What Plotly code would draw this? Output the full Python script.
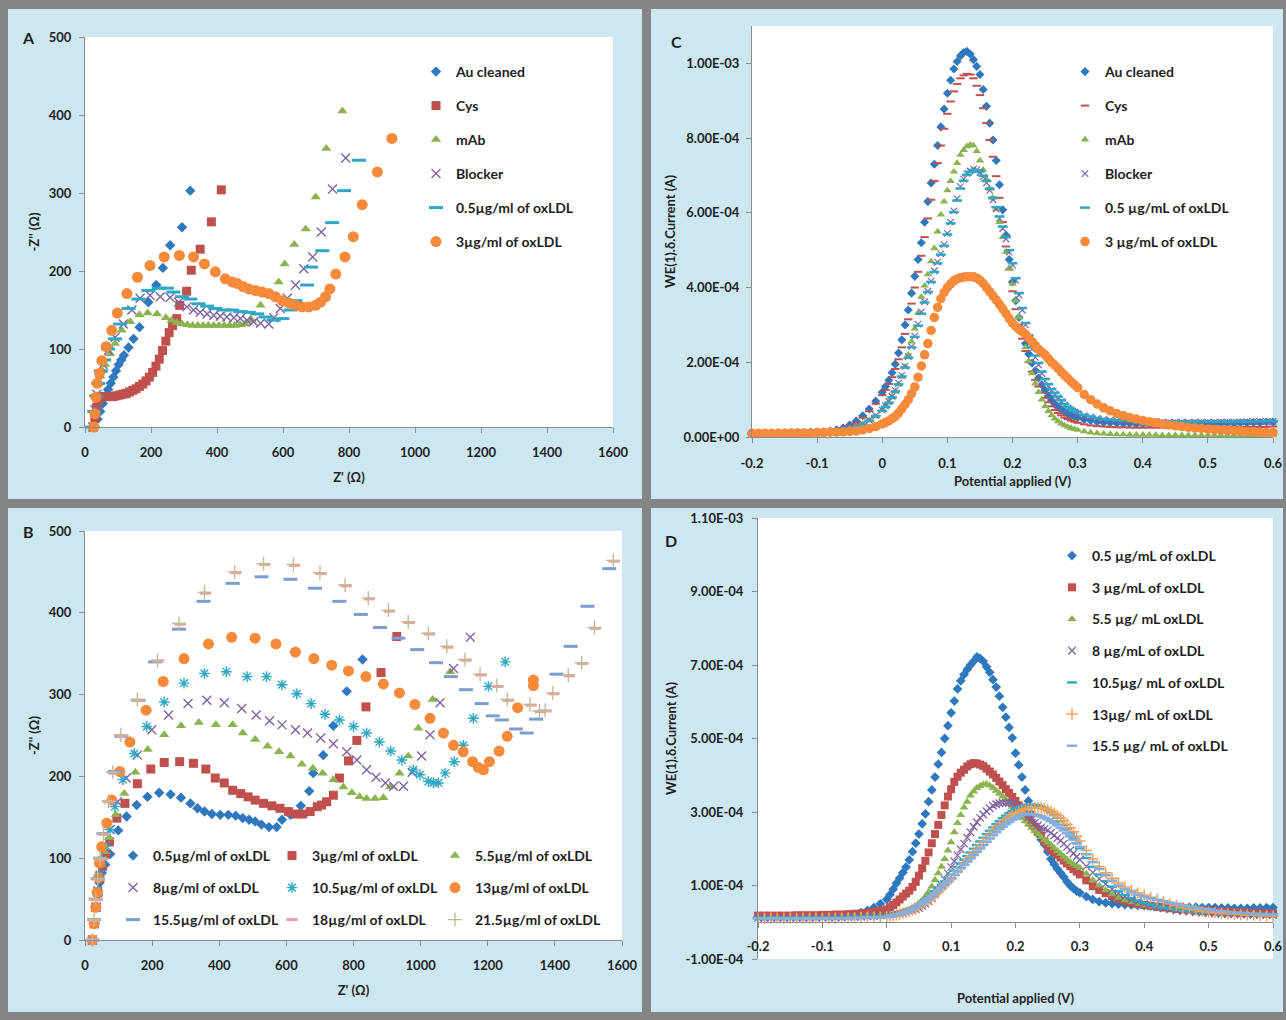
import plotly.graph_objects as go

W, H = 1286, 1020
FONT = "Lato, 'Open Sans', sans-serif"
TXT = "#1E1E1E"
AXC = "#8C8C8C"

# ------------------------------------------------------------------ DATA
# ---- Panel A : Nyquist plots (Z' / -Z'' in ohm)
a_au_x = [30, 38, 46, 54, 62, 70, 78, 86, 94, 102, 110, 118, 132, 147, 165, 192, 216, 236, 258, 294, 319]
a_au_y = [0, 10, 20, 30, 40, 48, 56, 64, 72, 80, 86, 92, 102, 113, 128, 160, 182, 204, 233, 256, 303]
a_cys_x = [25, 30, 35, 40, 46, 55, 65, 75, 85, 95, 105, 115, 125, 135, 145, 155, 165, 175, 185, 195,
           205, 215, 225, 235, 245, 255, 265, 278, 287, 308, 322, 349, 383, 413]
a_cys_y = [0, 12, 25, 35, 38, 39, 39, 39, 39, 40, 41, 42, 43, 45, 47, 49, 52, 55, 59, 64,
           70, 78, 87, 98, 110, 121, 130, 139, 156, 174, 201, 228, 263, 304]
a_mab_x = [22, 28, 34, 40, 46, 53, 61, 76, 91, 111, 137, 165, 190, 218, 245, 262, 278, 294, 310, 326,
           342, 358, 374, 390, 406, 422, 438, 454, 470, 486, 505, 532, 559, 587, 605, 634, 669, 699, 731, 780]
a_mab_y = [0, 20, 40, 55, 65, 72, 80, 94, 107, 124, 135, 144, 146, 145, 140, 137, 134, 132, 131, 130,
           130, 130, 130, 130, 130, 130, 130, 130, 131, 132, 137, 156, 171, 186, 209, 234, 254, 295, 357, 405]
a_blk_x = [24, 30, 36, 44, 55, 71, 91, 116, 142, 167, 197, 228, 258, 284, 309, 329, 349, 370, 390, 410,
           430, 451, 471, 491, 511, 532, 557, 572, 592, 613, 638, 663, 690, 716, 750, 790]
a_blk_y = [0, 22, 42, 60, 80, 98, 115, 132, 150, 165, 169, 167, 166, 160, 154, 150, 147, 145, 143, 142,
           141, 140, 139, 137, 135, 133, 132, 140, 152, 165, 182, 203, 218, 250, 305, 345]
a_ox05_x = [22, 28, 34, 40, 48, 58, 70, 91, 106, 132, 162, 192, 223, 248, 268, 294, 319, 344, 370, 395,
            420, 446, 471, 496, 522, 547, 572, 598, 623, 638, 673, 685, 719, 749, 785, 830]
a_ox05_y = [0, 20, 40, 56, 72, 86, 100, 113, 132, 152, 164, 175, 178, 178, 173, 167, 164, 158, 155, 152,
            150, 150, 148, 147, 145, 141, 137, 139, 150, 162, 182, 205, 226, 262, 303, 342]
a_ox3_x = [27, 30, 33, 37, 44, 51, 64, 81, 98, 127, 159, 197, 240, 286, 329, 362, 395, 425, 446, 461,
           479, 496, 517, 537, 557, 577, 598, 618, 638, 658, 678, 699, 714, 729, 742, 760, 788, 813, 840, 886, 930]
a_ox3_y = [0, 17, 38, 56, 69, 85, 103, 124, 146, 171, 192, 207, 218, 220, 218, 209, 199, 190, 186, 184,
           180, 177, 175, 173, 171, 167, 162, 159, 156, 154, 154, 156, 160, 167, 177, 196, 218, 244, 285, 327, 370]

# ---- Panel B : Nyquist plots for oxLDL concentrations
b05_x = [22, 28, 33, 38, 43, 50, 60, 75, 99, 124, 154, 186, 221, 255, 286, 314, 335, 356, 378, 403,
         427, 449, 470, 489, 507, 526, 548, 571, 587, 612, 643, 668, 680, 710, 740, 780, 827]
b05_y = [0, 20, 40, 55, 70, 82, 92, 105, 134, 151, 165, 175, 180, 178, 174, 167, 161, 157, 154, 153,
         153, 152, 149, 147, 145, 141, 138, 138, 147, 153, 164, 182, 204, 226, 262, 304, 343]
b3_x = [22, 28, 33, 38, 44, 52, 62, 73, 95, 119, 156, 196, 236, 282, 323, 360, 388, 415, 440, 464,
        486, 507, 532, 557, 581, 606, 627, 649, 671, 692, 705, 720, 740, 758, 785, 810, 837, 882, 929]
b3_y = [0, 20, 40, 58, 75, 90, 105, 120, 149, 167, 191, 209, 217, 218, 216, 209, 198, 192, 183, 179,
        175, 171, 167, 164, 161, 157, 154, 154, 157, 163, 165, 169, 177, 198, 219, 244, 285, 327, 371]
b55_x = [22, 28, 33, 38, 44, 52, 62, 72, 92, 117, 150, 187, 236, 286, 339, 390, 440, 470, 507, 544,
         578, 612, 646, 679, 708, 740, 770, 795, 818, 839, 864, 889, 909, 937, 963, 993, 1036, 1088]
b55_y = [0, 20, 40, 58, 76, 92, 108, 125, 153, 179, 205, 233, 251, 262, 266, 263, 263, 253, 245, 237,
         230, 225, 215, 210, 204, 196, 187, 180, 175, 173, 173, 174, 187, 204, 225, 259, 294, 328]
b8_x = [22, 28, 33, 38, 44, 52, 62, 75, 97, 123, 156, 199, 249, 307, 363, 415, 467, 510, 550, 587,
        627, 663, 702, 740, 780, 810, 839, 867, 895, 920, 949, 975, 1003, 1028, 1058, 1098, 1148]
b8_y = [0, 20, 40, 60, 78, 95, 112, 135, 169, 198, 226, 257, 275, 289, 293, 290, 283, 275, 268, 263,
        257, 253, 247, 240, 230, 220, 208, 199, 192, 188, 188, 205, 225, 251, 290, 332, 370]
b105_x = [22, 28, 33, 38, 44, 52, 62, 74, 89, 113, 147, 184, 236, 295, 356, 421, 483, 541, 587, 631,
          674, 715, 758, 800, 839, 877, 911, 944, 978, 998, 1023, 1038, 1053, 1073, 1100, 1127, 1157, 1202, 1252]
b105_y = [0, 20, 40, 60, 80, 98, 115, 135, 163, 196, 228, 261, 291, 314, 326, 328, 322, 322, 312, 301,
          289, 276, 269, 261, 253, 242, 231, 220, 208, 202, 194, 192, 192, 204, 218, 238, 271, 310, 340]
b13_x = [22, 27, 32, 36, 40, 43, 50, 65, 80, 104, 134, 182, 233, 295, 368, 437, 507, 569, 627, 682,
         735, 785, 837, 889, 937, 983, 1028, 1068, 1098, 1127, 1155, 1172, 1187, 1205, 1234, 1258, 1289, 1336, 1336]
b13_y = [0, 20, 40, 58, 76, 94, 114, 143, 171, 206, 242, 281, 316, 344, 362, 370, 369, 362, 352, 344,
         336, 329, 322, 313, 302, 288, 271, 253, 238, 230, 218, 211, 208, 218, 231, 249, 284, 311, 318]
b155_x = [22, 27, 32, 38, 45, 55, 74, 89, 109, 159, 209, 280, 353, 440, 526, 612, 685, 758, 822, 879,
          934, 990, 1046, 1090, 1135, 1182, 1215, 1242, 1284, 1316, 1344, 1405, 1447, 1497, 1562]
b155_y = [0, 25, 50, 75, 100, 130, 169, 206, 249, 293, 340, 380, 414, 436, 444, 441, 430, 414, 398, 382,
          369, 355, 339, 322, 306, 289, 274, 269, 258, 253, 270, 325, 359, 408, 454]
b18_x = [23, 28, 33, 39, 46, 56, 71, 85, 109, 158, 218, 283, 359, 449, 535, 624, 703, 778, 847, 907,
         966, 1026, 1081, 1135, 1180, 1230, 1261, 1329, 1357, 1374, 1397, 1443, 1483, 1521, 1577]
b18_y = [0, 24, 49, 74, 99, 129, 169, 204, 250, 293, 341, 386, 424, 449, 459, 458, 448, 433, 417, 402,
         388, 374, 358, 342, 324, 310, 293, 287, 279, 280, 301, 323, 338, 381, 463]
b215_x = [22, 27, 32, 38, 45, 55, 70, 83, 107, 156, 216, 280, 356, 446, 532, 621, 700, 775, 844, 904,
          963, 1023, 1078, 1132, 1177, 1227, 1258, 1326, 1354, 1371, 1394, 1440, 1480, 1518, 1574]
b215_y = [0, 25, 50, 75, 100, 130, 170, 205, 251, 294, 342, 387, 425, 450, 460, 459, 449, 434, 418, 403,
          389, 375, 359, 343, 325, 311, 294, 288, 280, 281, 302, 324, 339, 382, 464]

# ---- Panels C and D : DPV, potential (V) and current (units of 1e-4 A)
potential = [
    -0.20, -0.19, -0.18, -0.17, -0.16, -0.15, -0.14, -0.13, -0.12, -0.11,
    -0.10, -0.09, -0.08, -0.07, -0.06, -0.05, -0.04, -0.03, -0.02, -0.01,
    0.000, 0.005, 0.010, 0.015, 0.020, 0.025, 0.030, 0.035, 0.040, 0.045,
    0.050, 0.055, 0.060, 0.065, 0.070, 0.075, 0.080, 0.085, 0.090, 0.095,
    0.100, 0.105, 0.110, 0.115, 0.120, 0.125, 0.130, 0.135, 0.140, 0.145,
    0.150, 0.155, 0.160, 0.165, 0.170, 0.175, 0.180, 0.185, 0.190, 0.195,
    0.200, 0.205, 0.210, 0.215, 0.220, 0.225, 0.230, 0.235, 0.240, 0.245,
    0.250, 0.255, 0.260, 0.265, 0.270, 0.275, 0.280, 0.285, 0.290, 0.295,
    0.300,
    0.31, 0.32, 0.33, 0.34, 0.35, 0.36, 0.37, 0.38, 0.39, 0.40,
    0.41, 0.42, 0.43, 0.44, 0.45, 0.46, 0.47, 0.48, 0.49, 0.50,
    0.51, 0.52, 0.53, 0.54, 0.55, 0.56, 0.57, 0.58, 0.59, 0.60,
]

c_au = [
    0.10, 0.10, 0.10, 0.10, 0.11, 0.11, 0.11, 0.12, 0.12, 0.13,
    0.13, 0.14, 0.16, 0.19, 0.24, 0.32, 0.43, 0.57, 0.75, 0.96,
    1.20, 1.35, 1.52, 1.72, 1.95, 2.25, 2.60, 3.00, 3.40, 3.85,
    4.30, 4.75, 5.20, 5.75, 6.30, 6.80, 7.30, 7.80, 8.30, 8.78,
    9.20, 9.55, 9.85, 10.05, 10.20, 10.29, 10.32, 10.25, 10.10, 9.92,
    9.70, 9.30, 8.85, 8.40, 7.95, 7.40, 6.75, 6.08, 5.40, 4.75,
    4.15, 3.65, 3.20, 2.83, 2.50, 2.22, 1.98, 1.77, 1.58, 1.40,
    1.25, 1.10, 0.98, 0.88, 0.80, 0.73, 0.67, 0.62, 0.58, 0.55,
    0.52,
    0.47, 0.44, 0.41, 0.39, 0.38, 0.37, 0.36, 0.36, 0.35, 0.35,
    0.35, 0.35, 0.35, 0.35, 0.35, 0.35, 0.35, 0.36, 0.36, 0.36,
    0.36, 0.37, 0.37, 0.37, 0.38, 0.38, 0.39, 0.39, 0.40, 0.40,
]
c_cys = [
    0.10, 0.10, 0.10, 0.10, 0.10, 0.11, 0.11, 0.11, 0.12, 0.12,
    0.13, 0.14, 0.15, 0.18, 0.22, 0.29, 0.39, 0.52, 0.69, 0.89,
    1.12, 1.26, 1.42, 1.60, 1.82, 2.08, 2.40, 2.76, 3.15, 3.57,
    4.00, 4.42, 4.85, 5.35, 5.85, 6.35, 6.85, 7.33, 7.80, 8.25,
    8.65, 8.98, 9.25, 9.45, 9.60, 9.68, 9.72, 9.70, 9.60, 9.40,
    9.15, 8.80, 8.40, 7.95, 7.50, 6.98, 6.40, 5.75, 5.10, 4.48,
    3.90, 3.42, 3.00, 2.63, 2.30, 2.00, 1.75, 1.53, 1.35, 1.19,
    1.05, 0.93, 0.82, 0.72, 0.64, 0.58, 0.52, 0.48, 0.44, 0.41,
    0.38,
    0.34, 0.31, 0.29, 0.28, 0.27, 0.26, 0.26, 0.25, 0.25, 0.25,
    0.25, 0.25, 0.25, 0.25, 0.25, 0.25, 0.25, 0.25, 0.25, 0.25,
    0.25, 0.26, 0.26, 0.26, 0.26, 0.27, 0.27, 0.27, 0.27, 0.28,
]
c_mab = [
    0.08, 0.08, 0.08, 0.08, 0.09, 0.09, 0.09, 0.10, 0.10, 0.10,
    0.11, 0.12, 0.13, 0.15, 0.18, 0.22, 0.28, 0.35, 0.44, 0.55,
    0.72, 0.82, 0.92, 1.06, 1.22, 1.40, 1.61, 1.88, 2.20, 2.55,
    2.90, 3.32, 3.75, 4.05, 4.35, 4.70, 5.05, 5.50, 5.95, 6.30,
    6.60, 6.85, 7.10, 7.33, 7.55, 7.68, 7.78, 7.82, 7.80, 7.65,
    7.40, 7.15, 6.90, 6.65, 6.40, 6.10, 5.75, 5.35, 4.95, 4.52,
    4.10, 3.65, 3.20, 2.80, 2.40, 2.03, 1.70, 1.43, 1.20, 1.00,
    0.82, 0.69, 0.58, 0.49, 0.42, 0.36, 0.31, 0.27, 0.24, 0.21,
    0.19,
    0.15, 0.12, 0.10, 0.09, 0.08, 0.07, 0.07, 0.06, 0.06, 0.06,
    0.06, 0.06, 0.05, 0.05, 0.05, 0.05, 0.05, 0.05, 0.05, 0.05,
    0.05, 0.05, 0.05, 0.05, 0.05, 0.05, 0.05, 0.05, 0.05, 0.05,
]
c_blk = [
    0.09, 0.09, 0.09, 0.09, 0.09, 0.10, 0.10, 0.10, 0.10, 0.11,
    0.11, 0.12, 0.13, 0.15, 0.18, 0.22, 0.28, 0.35, 0.45, 0.57,
    0.72, 0.83, 0.95, 1.09, 1.25, 1.44, 1.65, 1.89, 2.15, 2.42,
    2.70, 3.02, 3.35, 3.62, 3.90, 4.17, 4.45, 4.68, 4.90, 5.15,
    5.45, 5.75, 6.05, 6.38, 6.70, 6.90, 7.05, 7.12, 7.17, 7.15,
    7.08, 6.96, 6.80, 6.60, 6.35, 6.10, 5.85, 5.58, 5.30, 4.95,
    4.60, 4.20, 3.80, 3.40, 3.00, 2.66, 2.35, 2.13, 1.93, 1.70,
    1.50, 1.37, 1.25, 1.15, 1.05, 0.95, 0.85, 0.78, 0.72, 0.67,
    0.63,
    0.57, 0.53, 0.50, 0.47, 0.45, 0.44, 0.43, 0.42, 0.42, 0.41,
    0.41, 0.41, 0.40, 0.40, 0.40, 0.40, 0.40, 0.40, 0.40, 0.40,
    0.40, 0.40, 0.40, 0.40, 0.40, 0.41, 0.41, 0.41, 0.41, 0.42,
]
c_ox05 = [
    0.09, 0.09, 0.09, 0.09, 0.10, 0.10, 0.10, 0.10, 0.11, 0.11,
    0.12, 0.12, 0.13, 0.15, 0.18, 0.22, 0.27, 0.34, 0.44, 0.56,
    0.70, 0.81, 0.92, 1.06, 1.22, 1.41, 1.62, 1.86, 2.12, 2.40,
    2.68, 2.98, 3.30, 3.60, 3.88, 4.15, 4.42, 4.65, 4.88, 5.12,
    5.42, 5.72, 6.02, 6.33, 6.65, 6.86, 7.02, 7.10, 7.15, 7.14,
    7.10, 6.99, 6.85, 6.64, 6.40, 6.15, 5.90, 5.63, 5.35, 5.00,
    4.65, 4.25, 3.85, 3.45, 3.05, 2.72, 2.40, 2.18, 1.98, 1.75,
    1.55, 1.41, 1.28, 1.18, 1.08, 0.98, 0.88, 0.81, 0.75, 0.70,
    0.66,
    0.59, 0.55, 0.51, 0.48, 0.46, 0.45, 0.44, 0.43, 0.43, 0.42,
    0.42, 0.41, 0.41, 0.41, 0.41, 0.41, 0.41, 0.41, 0.41, 0.41,
    0.41, 0.41, 0.41, 0.42, 0.42, 0.42, 0.42, 0.42, 0.43, 0.43,
]
c_ox3 = [
    0.10, 0.10, 0.10, 0.10, 0.10, 0.10, 0.11, 0.11, 0.11, 0.11,
    0.12, 0.12, 0.13, 0.13, 0.14, 0.15, 0.16, 0.19, 0.23, 0.28,
    0.35, 0.39, 0.43, 0.49, 0.55, 0.64, 0.75, 0.87, 1.00, 1.16,
    1.34, 1.60, 1.90, 2.20, 2.50, 2.85, 3.20, 3.47, 3.70, 3.87,
    4.00, 4.10, 4.18, 4.23, 4.26, 4.28, 4.29, 4.29, 4.29, 4.25,
    4.20, 4.11, 4.00, 3.89, 3.78, 3.67, 3.55, 3.43, 3.30, 3.17,
    3.05, 2.96, 2.88, 2.82, 2.75, 2.65, 2.55, 2.45, 2.35, 2.27,
    2.20, 2.10, 2.00, 1.92, 1.83, 1.74, 1.65, 1.57, 1.48, 1.40,
    1.32,
    1.14, 1.00, 0.88, 0.78, 0.70, 0.63, 0.57, 0.52, 0.48, 0.44,
    0.41, 0.38, 0.35, 0.32, 0.30, 0.28, 0.26, 0.24, 0.23, 0.21,
    0.20, 0.19, 0.18, 0.17, 0.16, 0.15, 0.14, 0.13, 0.12, 0.12,
]

d_ox05 = [
    0.15, 0.15, 0.15, 0.15, 0.15, 0.15, 0.15, 0.15, 0.16, 0.16,
    0.16, 0.17, 0.17, 0.18, 0.20, 0.22, 0.26, 0.32, 0.40, 0.50,
    0.62, 0.75, 0.90, 1.06, 1.20, 1.35, 1.50, 1.70, 1.92, 2.15,
    2.40, 2.68, 2.95, 3.28, 3.60, 3.95, 4.30, 4.62, 5.00, 5.35,
    5.70, 6.02, 6.35, 6.57, 6.74, 6.88, 7.00, 7.10, 7.22, 7.18,
    7.10, 6.95, 6.80, 6.60, 6.40, 6.15, 5.85, 5.58, 5.30, 5.02,
    4.60, 4.28, 3.95, 3.60, 3.30, 2.95, 2.62, 2.40, 2.25, 2.12,
    1.92, 1.72, 1.58, 1.45, 1.34, 1.23, 1.10, 1.00, 0.92, 0.85,
    0.80,
    0.70, 0.62, 0.56, 0.53, 0.51, 0.49, 0.48, 0.47, 0.46, 0.45,
    0.44, 0.43, 0.42, 0.42, 0.41, 0.41, 0.41, 0.41, 0.40, 0.40,
    0.40, 0.39, 0.39, 0.38, 0.38, 0.38, 0.39, 0.39, 0.40, 0.40,
]
d_ox3 = [
    0.18, 0.18, 0.18, 0.18, 0.18, 0.18, 0.19, 0.19, 0.19, 0.19,
    0.20, 0.20, 0.21, 0.21, 0.22, 0.23, 0.24, 0.26, 0.28, 0.31,
    0.35, 0.41, 0.47, 0.54, 0.62, 0.70, 0.78, 0.86, 0.96, 1.10,
    1.27, 1.47, 1.67, 1.90, 2.15, 2.40, 2.65, 2.92, 3.18, 3.42,
    3.62, 3.82, 3.96, 4.07, 4.15, 4.24, 4.30, 4.33, 4.32, 4.29,
    4.25, 4.18, 4.10, 4.02, 3.93, 3.83, 3.73, 3.62, 3.52, 3.41,
    3.30, 3.18, 3.07, 2.93, 2.80, 2.70, 2.60, 2.48, 2.36, 2.20,
    2.08, 1.98, 1.91, 1.84, 1.76, 1.68, 1.60, 1.53, 1.45, 1.38,
    1.30,
    1.14, 0.98, 0.88, 0.79, 0.71, 0.64, 0.58, 0.54, 0.50, 0.47,
    0.45, 0.42, 0.40, 0.38, 0.36, 0.35, 0.34, 0.33, 0.32, 0.31,
    0.30, 0.29, 0.28, 0.27, 0.26, 0.26, 0.25, 0.25, 0.24, 0.24,
]
d_ox55 = [
    0.13, 0.13, 0.13, 0.13, 0.13, 0.13, 0.13, 0.13, 0.14, 0.14,
    0.14, 0.14, 0.15, 0.15, 0.16, 0.17, 0.18, 0.19, 0.19, 0.19,
    0.20, 0.21, 0.22, 0.24, 0.26, 0.28, 0.31, 0.34, 0.38, 0.44,
    0.51, 0.60, 0.70, 0.82, 0.97, 1.15, 1.33, 1.51, 1.72, 1.95,
    2.18, 2.45, 2.70, 2.92, 3.12, 3.28, 3.45, 3.56, 3.65, 3.71,
    3.75, 3.76, 3.72, 3.66, 3.58, 3.50, 3.42, 3.34, 3.24, 3.14,
    3.04, 2.93, 2.84, 2.75, 2.66, 2.57, 2.48, 2.40, 2.32, 2.24,
    2.17, 2.10, 2.02, 1.94, 1.86, 1.78, 1.71, 1.64, 1.58, 1.53,
    1.48,
    1.32, 1.15, 1.00, 0.87, 0.76, 0.67, 0.60, 0.55, 0.50, 0.46,
    0.43, 0.41, 0.39, 0.37, 0.35, 0.33, 0.31, 0.30, 0.29, 0.28,
    0.27, 0.26, 0.25, 0.24, 0.24, 0.23, 0.23, 0.22, 0.22, 0.22,
]
d_ox8 = [
    0.12, 0.12, 0.12, 0.12, 0.12, 0.12, 0.12, 0.12, 0.12, 0.12,
    0.13, 0.13, 0.13, 0.13, 0.14, 0.14, 0.15, 0.16, 0.17, 0.19,
    0.20, 0.21, 0.22, 0.23, 0.24, 0.26, 0.28, 0.30, 0.32, 0.35,
    0.39, 0.44, 0.50, 0.57, 0.65, 0.77, 0.88, 1.01, 1.17, 1.33,
    1.50, 1.66, 1.82, 1.98, 2.14, 2.30, 2.45, 2.60, 2.72, 2.84,
    2.93, 3.02, 3.10, 3.17, 3.21, 3.24, 3.25, 3.25, 3.25, 3.24,
    3.20, 3.14, 3.05, 2.96, 2.87, 2.78, 2.70, 2.64, 2.58, 2.54,
    2.50, 2.43, 2.36, 2.29, 2.22, 2.14, 2.05, 1.96, 1.87, 1.78,
    1.70,
    1.52, 1.35, 1.18, 1.04, 0.90, 0.79, 0.70, 0.62, 0.56, 0.50,
    0.45, 0.41, 0.38, 0.35, 0.32, 0.30, 0.29, 0.27, 0.26, 0.25,
    0.24, 0.23, 0.22, 0.22, 0.21, 0.21, 0.20, 0.20, 0.20, 0.20,
]
d_ox105 = [
    0.13, 0.13, 0.13, 0.13, 0.13, 0.13, 0.13, 0.13, 0.13, 0.13,
    0.13, 0.13, 0.14, 0.14, 0.14, 0.15, 0.15, 0.16, 0.16, 0.17,
    0.18, 0.19, 0.21, 0.23, 0.25, 0.28, 0.31, 0.35, 0.39, 0.44,
    0.49, 0.55, 0.61, 0.68, 0.76, 0.84, 0.93, 1.02, 1.11, 1.20,
    1.30, 1.40, 1.50, 1.60, 1.70, 1.80, 1.90, 2.00, 2.10, 2.20,
    2.30, 2.40, 2.49, 2.58, 2.67, 2.75, 2.83, 2.90, 2.97, 3.03,
    3.08, 3.12, 3.16, 3.18, 3.20, 3.20, 3.19, 3.17, 3.14, 3.10,
    3.05, 2.99, 2.92, 2.84, 2.75, 2.65, 2.54, 2.42, 2.29, 2.15,
    2.01,
    1.75, 1.51, 1.30, 1.12, 0.97, 0.84, 0.74, 0.66, 0.59, 0.53,
    0.48, 0.44, 0.40, 0.37, 0.35, 0.33, 0.31, 0.29, 0.28, 0.27,
    0.26, 0.25, 0.25, 0.24, 0.24, 0.23, 0.23, 0.23, 0.22, 0.22,
]
d_ox13 = [
    0.11, 0.11, 0.11, 0.11, 0.11, 0.11, 0.11, 0.11, 0.11, 0.11,
    0.11, 0.11, 0.11, 0.12, 0.12, 0.12, 0.13, 0.13, 0.14, 0.14,
    0.15, 0.16, 0.17, 0.19, 0.21, 0.24, 0.27, 0.30, 0.34, 0.38,
    0.43, 0.48, 0.54, 0.60, 0.67, 0.75, 0.83, 0.91, 1.00, 1.09,
    1.18, 1.28, 1.38, 1.48, 1.58, 1.68, 1.78, 1.88, 1.98, 2.08,
    2.18, 2.28, 2.37, 2.46, 2.55, 2.63, 2.71, 2.78, 2.85, 2.91,
    2.96, 3.01, 3.05, 3.08, 3.10, 3.11, 3.12, 3.12, 3.11, 3.09,
    3.06, 3.02, 2.97, 2.91, 2.84, 2.76, 2.67, 2.57, 2.46, 2.34,
    2.21,
    1.95, 1.72, 1.52, 1.35, 1.20, 1.07, 0.96, 0.87, 0.80, 0.74,
    0.68, 0.62, 0.56, 0.50, 0.45, 0.40, 0.36, 0.33, 0.30, 0.28,
    0.26, 0.24, 0.23, 0.22, 0.21, 0.20, 0.19, 0.18, 0.17, 0.17,
]
d_ox155 = [
    0.10, 0.10, 0.10, 0.10, 0.10, 0.10, 0.10, 0.10, 0.10, 0.10,
    0.10, 0.10, 0.10, 0.11, 0.11, 0.11, 0.12, 0.12, 0.13, 0.13,
    0.14, 0.15, 0.17, 0.19, 0.21, 0.24, 0.27, 0.31, 0.35, 0.40,
    0.45, 0.51, 0.57, 0.64, 0.71, 0.79, 0.87, 0.95, 1.03, 1.11,
    1.20, 1.29, 1.38, 1.47, 1.56, 1.65, 1.74, 1.83, 1.92, 2.01,
    2.10, 2.19, 2.28, 2.37, 2.45, 2.53, 2.60, 2.67, 2.73, 2.79,
    2.84, 2.88, 2.92, 2.94, 2.95, 2.94, 2.93, 2.91, 2.88, 2.84,
    2.80, 2.75, 2.70, 2.64, 2.57, 2.50, 2.42, 2.34, 2.25, 2.15,
    2.05,
    1.85, 1.64, 1.45, 1.28, 1.13, 1.00, 0.90, 0.82, 0.75, 0.70,
    0.65, 0.61, 0.57, 0.53, 0.50, 0.46, 0.43, 0.40, 0.37, 0.35,
    0.32, 0.30, 0.28, 0.26, 0.25, 0.24, 0.23, 0.22, 0.21, 0.21,
]
CURRENT_UNIT = 1e-4

# ---- axis ticks / labels
ab_xticks = [0, 200, 400, 600, 800, 1000, 1200, 1400, 1600]
ab_yticks = [0, 100, 200, 300, 400, 500]
cd_xticks = [-0.2, -0.1, 0, 0.1, 0.2, 0.3, 0.4, 0.5, 0.6]
cd_xlabels = ["-0.2", "-0.1", "0", "0.1", "0.2", "0.3", "0.4", "0.5", "0.6"]
c_yticks = [0, 2e-4, 4e-4, 6e-4, 8e-4, 1e-3]
c_ylabels = ["0.00E+00", "2.00E-04", "4.00E-04", "6.00E-04", "8.00E-04", "1.00E-03"]
d_yticks = [-1e-4, 1e-4, 3e-4, 5e-4, 7e-4, 9e-4, 1.1e-3]
d_ylabels = ["-1.00E-04", "1.00E-04", "3.00E-04", "5.00E-04", "7.00E-04", "9.00E-04", "1.10E-03"]

# ------------------------------------------------------------------ STYLE
BLUE = "#2F78BE"
RED = "#C0504D"
GREEN = "#8BB350"
PURPLE = "#7F62A1"
CYAN = "#2DA7C5"
ORANGE = "#F68A3B"
SLATE = "#7B9DD0"
PINK = "#E8A0A0"
TAN = "#C4B996"
D_ORANGE = "#F5A05A"
D_LIGHT = "#86AEDD"
PANEL_BG = "#CCE7F0"
FRAME = "#858585"

FILLED = {"diamond", "square", "triangle-up", "circle"}

fig = go.Figure()


def add(x, y, name, sym, size, color, lw, sub, legend, group):
    marker = dict(symbol=sym, size=size, color=color,
                  line=dict(width=0 if sym in FILLED else lw, color=color))
    fig.add_trace(go.Scatter(
        x=x, y=y, mode="markers", name=name, marker=marker,
        xaxis="x" + sub, yaxis="y" + sub, legend=legend, legendgroup=group,
        cliponaxis=False, hoverinfo="skip"))


def cur(vals):
    return [v * CURRENT_UNIT for v in vals]


# Panel A  (x / y)
add(a_au_x, a_au_y, "Au cleaned", "diamond", 8, BLUE, 0, "", "legend", "a1")
add(a_cys_x, a_cys_y, "Cys", "square", 9, RED, 0, "", "legend", "a2")
add(a_mab_x, a_mab_y, "mAb", "triangle-up", 9, GREEN, 0, "", "legend", "a3")
add(a_blk_x, a_blk_y, "Blocker", "x-thin", 9, PURPLE, 1.4, "", "legend", "a4")
add(a_ox05_x, a_ox05_y, "0.5µg/ml of oxLDL", "line-ew", 10, CYAN, 3, "", "legend", "a5")
add(a_ox3_x, a_ox3_y, "3µg/ml of oxLDL", "circle", 11, ORANGE, 0, "", "legend", "a6")

# Panel C  (x2 / y2)
add(potential, cur(c_au), "Au cleaned", "diamond", 7, BLUE, 0, "2", "legend2", "c1")
add(potential, cur(c_cys), "Cys", "line-ew", 6, RED, 2, "2", "legend2", "c2")
add(potential, cur(c_mab), "mAb", "triangle-up", 7.5, GREEN, 0, "2", "legend2", "c3")
add(potential, cur(c_blk), "Blocker", "x-thin", 6.5, PURPLE, 1.2, "2", "legend2", "c4")
add(potential, cur(c_ox05), "0.5 µg/mL of oxLDL", "line-ew", 7, CYAN, 2.5, "2", "legend2", "c5")
add(potential, cur(c_ox3), "3 µg/mL of oxLDL", "circle", 9.5, ORANGE, 0, "2", "legend2", "c6")

# Panel B  (x3 / y3) - legend columns
add(b05_x, b05_y, "0.5µg/ml of oxLDL", "diamond", 8, BLUE, 0, "3", "legend3", "b1")
add(b3_x, b3_y, "3µg/ml of oxLDL", "square", 9, RED, 0, "3", "legend4", "b2")
add(b55_x, b55_y, "5.5µg/ml of oxLDL", "triangle-up", 9, GREEN, 0, "3", "legend5", "b3")
add(b8_x, b8_y, "8µg/ml of oxLDL", "x-thin", 9, PURPLE, 1.4, "3", "legend3", "b4")
add(b105_x, b105_y, "10.5µg/ml of oxLDL", "asterisk", 9, CYAN, 1.4, "3", "legend4", "b5")
add(b13_x, b13_y, "13µg/ml of oxLDL", "circle", 11, ORANGE, 0, "3", "legend5", "b6")
add(b155_x, b155_y, "15.5µg/ml of oxLDL", "line-ew", 10, SLATE, 3, "3", "legend3", "b7")
add(b18_x, b18_y, "18µg/ml of oxLDL", "line-ew", 8, PINK, 3, "3", "legend4", "b8")
add(b215_x, b215_y, "21.5µg/ml of oxLDL", "cross-thin", 10, TAN, 1.4, "3", "legend5", "b9")

# Panel D  (x4 / y4)
add(potential, cur(d_ox05), "0.5 µg/mL of oxLDL", "diamond", 7.5, BLUE, 0, "4", "legend6", "d1")
add(potential, cur(d_ox3), "3 µg/mL of oxLDL", "square", 8, RED, 0, "4", "legend6", "d2")
add(potential, cur(d_ox55), "5.5 µg/ mL oxLDL", "triangle-up", 8, GREEN, 0, "4", "legend6", "d3")
add(potential, cur(d_ox8), "8 µg/mL of oxLDL", "x-thin", 7.5, PURPLE, 1.3, "4", "legend6", "d4")
add(potential, cur(d_ox105), "10.5µg/ mL of oxLDL", "line-ew", 7, CYAN, 2.4, "4", "legend6", "d5")
add(potential, cur(d_ox13), "13µg/ mL of oxLDL", "cross-thin", 8, D_ORANGE, 1.5, "4", "legend6", "d6")
add(potential, cur(d_ox155), "15.5 µg/ mL of oxLDL", "line-ew", 7.5, D_LIGHT, 2.6, "4", "legend6", "d7")

# ------------------------------------------------------------------ LAYOUT
# plot areas in pixels: (left, top, right, bottom)
PA = (85, 37, 613, 427)
PC = (752, 26, 1273, 437)
PB = (85, 531, 622, 940)
PD = (758, 518, 1273, 959)


def xd(box):
    return [box[0] / W, box[2] / W]


def yd(box):
    return [1 - box[3] / H, 1 - box[1] / H]


tickfont = dict(family=FONT, size=13, color=TXT, weight="bold")
titlefont = dict(family=FONT, size=13, color=TXT, weight="bold")


def axis(**kw):
    base = dict(showline=True, linecolor=AXC, linewidth=1, ticks="outside", ticklen=5,
                tickcolor=AXC, tickwidth=1, showgrid=False, zeroline=False,
                tickfont=tickfont, fixedrange=True, automargin=False)
    base.update(kw)
    return base


def xtitle(text, standoff):
    return dict(text=text, font=titlefont, standoff=standoff)


d_ydom = yd(PD)
d_axis_pos = d_ydom[0] + (0 - (-1e-4)) / (1.1e-3 - (-1e-4)) * (d_ydom[1] - d_ydom[0])

layout = dict(
    width=W, height=H, margin=dict(l=0, r=0, t=0, b=0, autoexpand=False),
    paper_bgcolor=PANEL_BG, plot_bgcolor="white",
    font=dict(family=FONT, color=TXT),
    xaxis=axis(domain=xd(PA), anchor="y", range=[0, 1600], tickmode="array", tickvals=ab_xticks,
               ticklabelstandoff=8, title=xtitle("Z' (Ω)", 14)),
    yaxis=axis(domain=yd(PA), anchor="x", range=[0, 500], tickmode="array", tickvals=ab_yticks,
               ticklabelstandoff=5, title=xtitle("-Z'' (Ω)", 6)),
    xaxis2=axis(domain=xd(PC), anchor="y2", range=[-0.2, 0.6], tickmode="array", tickvals=cd_xticks,
                ticktext=cd_xlabels, ticklabelstandoff=9, title=xtitle("Potential applied (V)", 7)),
    yaxis2=axis(domain=yd(PC), anchor="x2", range=[0, 1.1e-3], tickmode="array", tickvals=c_yticks,
                ticktext=c_ylabels, ticklabelstandoff=4, title=xtitle("WE(1).δ.Current (A)", 5)),
    xaxis3=axis(domain=xd(PB), anchor="y3", range=[0, 1600], tickmode="array", tickvals=ab_xticks,
                ticklabelstandoff=8, title=xtitle("Z' (Ω)", 14)),
    yaxis3=axis(domain=yd(PB), anchor="x3", range=[0, 500], tickmode="array", tickvals=ab_yticks,
                ticklabelstandoff=5, title=xtitle("-Z'' (Ω)", 6)),
    xaxis4=axis(domain=xd(PD), anchor="free", position=d_axis_pos, range=[-0.2, 0.6], tickmode="array",
                tickvals=cd_xticks, ticktext=cd_xlabels, ticklabelstandoff=7,
                title=xtitle("Potential applied (V)", 41)),
    yaxis4=axis(domain=d_ydom, anchor="x4", range=[-1e-4, 1.1e-3], tickmode="array", tickvals=d_yticks,
                ticktext=d_ylabels, ticklabelstandoff=6, title=xtitle("WE(1).δ.Current (A)", 5)),
)


def legend_cfg(left_px, top_px, gap):
    return dict(x=left_px / W, y=1 - top_px / H, xanchor="left", yanchor="top",
                bgcolor="rgba(0,0,0,0)", borderwidth=0, traceorder="grouped",
                font=dict(family=FONT, size=14, color=TXT, weight="bold"),
                tracegroupgap=gap, itemclick=False, itemdoubleclick=False)


layout["legend"] = legend_cfg(416, 56, 12.8)
layout["legend2"] = legend_cfg(1065, 56, 12.8)
layout["legend3"] = legend_cfg(113, 840, 10.8)
layout["legend4"] = legend_cfg(272, 840, 10.8)
layout["legend5"] = legend_cfg(435, 840, 10.8)
layout["legend6"] = legend_cfg(1052, 540, 10.5)

# gray frame strips around / between the panels
strips = [(0, 0, W, 9), (0, 1012, W, H), (0, 0, 8, H), (1283, 0, W, H),
          (642, 0, 651, H), (0, 499, W, 508)]
layout["shapes"] = [dict(type="rect", xref="paper", yref="paper", x0=a / W, x1=c / W,
                         y0=1 - d / H, y1=1 - b / H, fillcolor=FRAME, line=dict(width=0),
                         layer="below") for (a, b, c, d) in strips]

letters = [("A", 28, 38), ("C", 676, 42), ("B", 28, 531), ("D", 671, 540)]
layout["annotations"] = [dict(text=t, x=px / W, y=1 - py / H, xref="paper", yref="paper",
                              xanchor="center", yanchor="middle", showarrow=False,
                              font=dict(family=FONT, size=16, color=TXT, weight="bold"))
                         for (t, px, py) in letters]

fig.update_layout(**layout)
# remove the browser's default 8px page margin so the figure fills the window exactly
fig.write_html("out.html",
               config={"displayModeBar": False},
               post_script="document.body.style.margin='0';document.body.style.overflow='hidden';")
